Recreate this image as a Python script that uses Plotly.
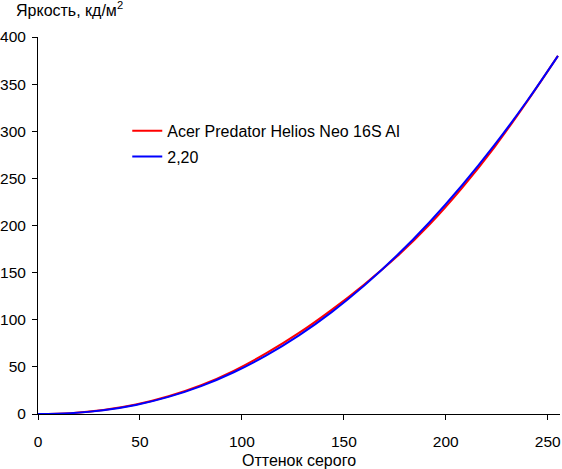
import plotly.graph_objects as go

# Уровни серого и яркость (кд/м2)
gray_levels = [0, 16, 32, 48, 64, 80, 96, 112, 128, 144, 160, 176, 192, 208, 224, 240, 255]
measured = [0.0, 0.9, 4.2, 10.0, 18.8, 30.5, 45.8, 64.5, 86.0, 110.5, 137.5, 167.0, 201.0, 240.0, 283.5, 332.0, 380.0]
gamma_220 = [0.0, 0.9, 4.0, 9.6, 18.2, 29.6, 44.3, 62.2, 83.4, 108.1, 136.3, 168.1, 203.5, 242.7, 285.7, 332.6, 380.0]

series_names = ["Acer Predator Helios Neo 16S AI", "2,20"]
x_ticks = [0, 50, 100, 150, 200, 250]
y_ticks = [0, 50, 100, 150, 200, 250, 300, 350, 400]

font = dict(family="Arial, Liberation Sans, sans-serif", size=16, color="black")
tick_font = dict(family="Arial, Liberation Sans, sans-serif", size=15.5, color="black")

fig = go.Figure()

fig.add_trace(go.Scatter(
    x=gray_levels, y=measured, mode="lines", name=series_names[0], legendgroup="a",
    line=dict(color="#ff0000", width=2, shape="spline")
))
fig.add_trace(go.Scatter(
    x=gray_levels, y=gamma_220, mode="lines", name=series_names[1], legendgroup="b",
    line=dict(color="#0000ff", width=2, shape="spline")
))

fig.update_layout(
    width=562, height=469,
    margin=dict(l=38, r=2, t=37, b=55),
    plot_bgcolor="white", paper_bgcolor="white",
    font=font,
    showlegend=True,
    legend=dict(x=0.171, y=0.796, xanchor="left", yanchor="top", traceorder="grouped",
                bgcolor="rgba(0,0,0,0)", font=font, tracegroupgap=2),
    xaxis=dict(range=[0, 256], tickvals=x_ticks, showgrid=False, zeroline=False,
               showline=True, linecolor="black", linewidth=1, automargin=False,
               ticks="outside", ticklen=5, tickcolor="black", ticklabelstandoff=8,
               tickfont=tick_font,
               title=dict(text="Оттенок серого", font=font, standoff=7)),
    yaxis=dict(range=[0, 400], tickvals=y_ticks, showgrid=False, zeroline=False,
               showline=True, linecolor="black", linewidth=1, automargin=False,
               ticks="outside", ticklen=5, tickcolor="black", ticklabelstandoff=3,
               tickfont=tick_font),
    annotations=[dict(text="Яркость, кд/м<sup>2</sup>", x=0, y=1, xref="paper", yref="paper",
                      xanchor="left", yanchor="bottom", xshift=-24, yshift=16,
                      showarrow=False, font=font)],
)

fig.write_html("out.html", config={"displayModeBar": False},
               post_script="document.body.style.margin='0';")
